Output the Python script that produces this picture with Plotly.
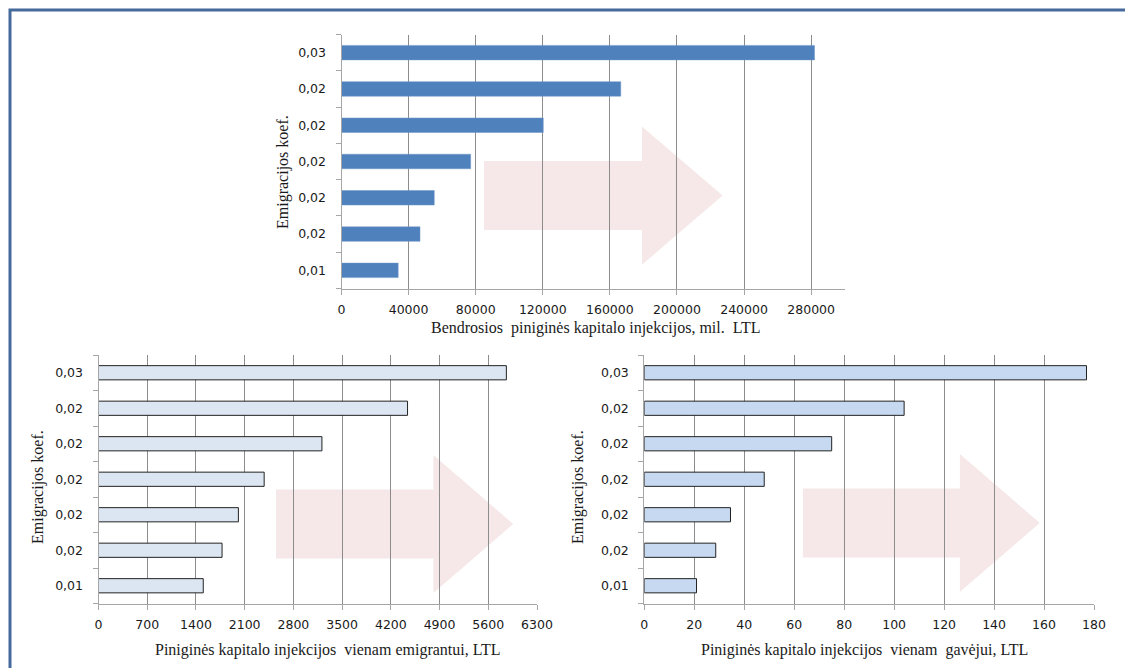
import plotly.graph_objects as go

# category labels, listed top to bottom as they appear in the charts
koef_labels = ["0,03", "0,02", "0,02", "0,02", "0,02", "0,02", "0,01"]

# Bendrosios piniginės kapitalo injekcijos, mil. LTL
bendros = [282000, 166500, 120300, 77000, 55300, 46800, 33800]
# Piniginės kapitalo injekcijos vienam emigrantui, LTL
vienam_emigrantui = [5860, 4440, 3210, 2380, 2010, 1775, 1505]
# Piniginės kapitalo injekcijos vienam gavėjui, LTL
vienam_gavejui = [177, 104, 75, 48, 34.5, 28.6, 20.9]

rows = list(range(len(koef_labels)))

W, H = 1125, 668
tick_font = dict(family="DejaVu Sans", size=12.5, color="#1a1a1a")
title_font = dict(family="Liberation Serif", size=16, color="#1a1a1a")
grid_col = "#8c8c8c"
line_col = "#a6a6a6"
arrow_col = "#f6e8e8"


def px_x(p):
    return p / W


def px_y(p):
    return 1 - p / H


fig = go.Figure()

fig.add_trace(go.Bar(x=bendros, y=rows, orientation="h", xaxis="x", yaxis="y",
                     marker=dict(color="#4f81bd", line=dict(color="#6e97c9", width=0.5))))
fig.add_trace(go.Bar(x=vienam_emigrantui, y=rows, orientation="h", xaxis="x2", yaxis="y2",
                     marker=dict(color="#dce6f2", line=dict(color="#222222", width=1))))
fig.add_trace(go.Bar(x=vienam_gavejui, y=rows, orientation="h", xaxis="x3", yaxis="y3",
                     marker=dict(color="#c6d9f1", line=dict(color="#222222", width=1))))


def xaxis(domain, rng, dtick, anchor):
    return dict(domain=domain, range=rng, tick0=0, dtick=dtick, tickformat="d",
                showgrid=True, gridcolor=grid_col, gridwidth=1, zeroline=False,
                showline=True, linecolor=line_col, linewidth=1,
                ticks="outside", ticklen=5, tickcolor=line_col, automargin=False,
                ticklabelstandoff=4, tickfont=tick_font, anchor=anchor, fixedrange=True)


def yaxis(domain, anchor):
    return dict(domain=domain, range=[len(rows) - 0.5, -0.5],
                tickmode="array", tickvals=rows, ticktext=koef_labels, ticks="",
                showgrid=False, zeroline=False, showline=True, linecolor=line_col, linewidth=1,
                minor=dict(tickmode="array", tickvals=[r - 0.5 for r in rows] + [len(rows) - 0.5],
                           ticks="outside", ticklen=5, tickcolor=line_col, showgrid=False),
                ticklabelstandoff=12, tickfont=tick_font, anchor=anchor, fixedrange=True,
                automargin=False)


fig.update_layout(
    width=W, height=H, autosize=False,
    margin=dict(l=0, r=0, t=0, b=0, pad=0, autoexpand=False),
    paper_bgcolor="white", plot_bgcolor="white",
    showlegend=False, bargap=0.6,
    xaxis=xaxis([px_x(341.5), px_x(844.7)], [0, 300000], 40000, "y"),
    yaxis=yaxis([px_y(288.5), px_y(34.5)], "x"),
    xaxis2=xaxis([px_x(98.5), px_x(537)], [0, 6300], 700, "y2"),
    yaxis2=yaxis([px_y(603.5), px_y(355)], "x2"),
    xaxis3=xaxis([px_x(644.3), px_x(1094)], [0, 180], 20, "y3"),
    yaxis3=yaxis([px_y(603.5), px_y(355)], "x3"),
)


# pale decorative arrows, in each chart's own data units
def arrow(xref, yref, x0, x1, xt, yc, body, head):
    path = (f"M{x0},{yc - body} L{x1},{yc - body} L{x1},{yc - head} L{xt},{yc} "
            f"L{x1},{yc + head} L{x1},{yc + body} L{x0},{yc + body} Z")
    fig.add_shape(type="path", path=path, xref=xref, yref=yref,
                  fillcolor=arrow_col, line=dict(width=0), layer="below")


arrow("x", "y", 84950, 179130, 227230, 3.94, 0.951, 1.905)
arrow("x2", "y2", 2551, 4812, 5958, 4.26, 0.972, 1.944)
arrow("x3", "y3", 63.5, 126.3, 158.3, 4.23, 0.972, 1.944)

# axis titles
x_titles = [
    ("Bendrosios\u00a0 piniginės kapitalo injekcijos, mil.\u00a0 LTL", 596, 328),
    ("Piniginės kapitalo injekcijos\u00a0 vienam emigrantui, LTL", 328, 650),
    ("Piniginės kapitalo injekcijos\u00a0 vienam\u00a0 gavėjui, LTL", 864, 650),
]
for txt, cx, cy in x_titles:
    fig.add_annotation(text=txt, x=px_x(cx), y=px_y(cy), xref="paper", yref="paper",
                       showarrow=False, font=title_font, xanchor="center", yanchor="middle")

for cx, cy in [(283, 172), (38, 487), (578, 487)]:
    fig.add_annotation(text="Emigracijos koef.", x=px_x(cx), y=px_y(cy), xref="paper", yref="paper",
                       showarrow=False, font=title_font, textangle=-90,
                       xanchor="center", yanchor="middle")

# blue frame around the figure (left and top edges visible)
fig.add_shape(type="path", path=f"M{px_x(10)},0 L{px_x(10)},{px_y(10)} L1,{px_y(10)}",
              xref="paper", yref="paper", line=dict(color="#466a9b", width=3))

fig.write_html("out.html", config={"displayModeBar": False},
               post_script="document.body.style.margin='0';")
